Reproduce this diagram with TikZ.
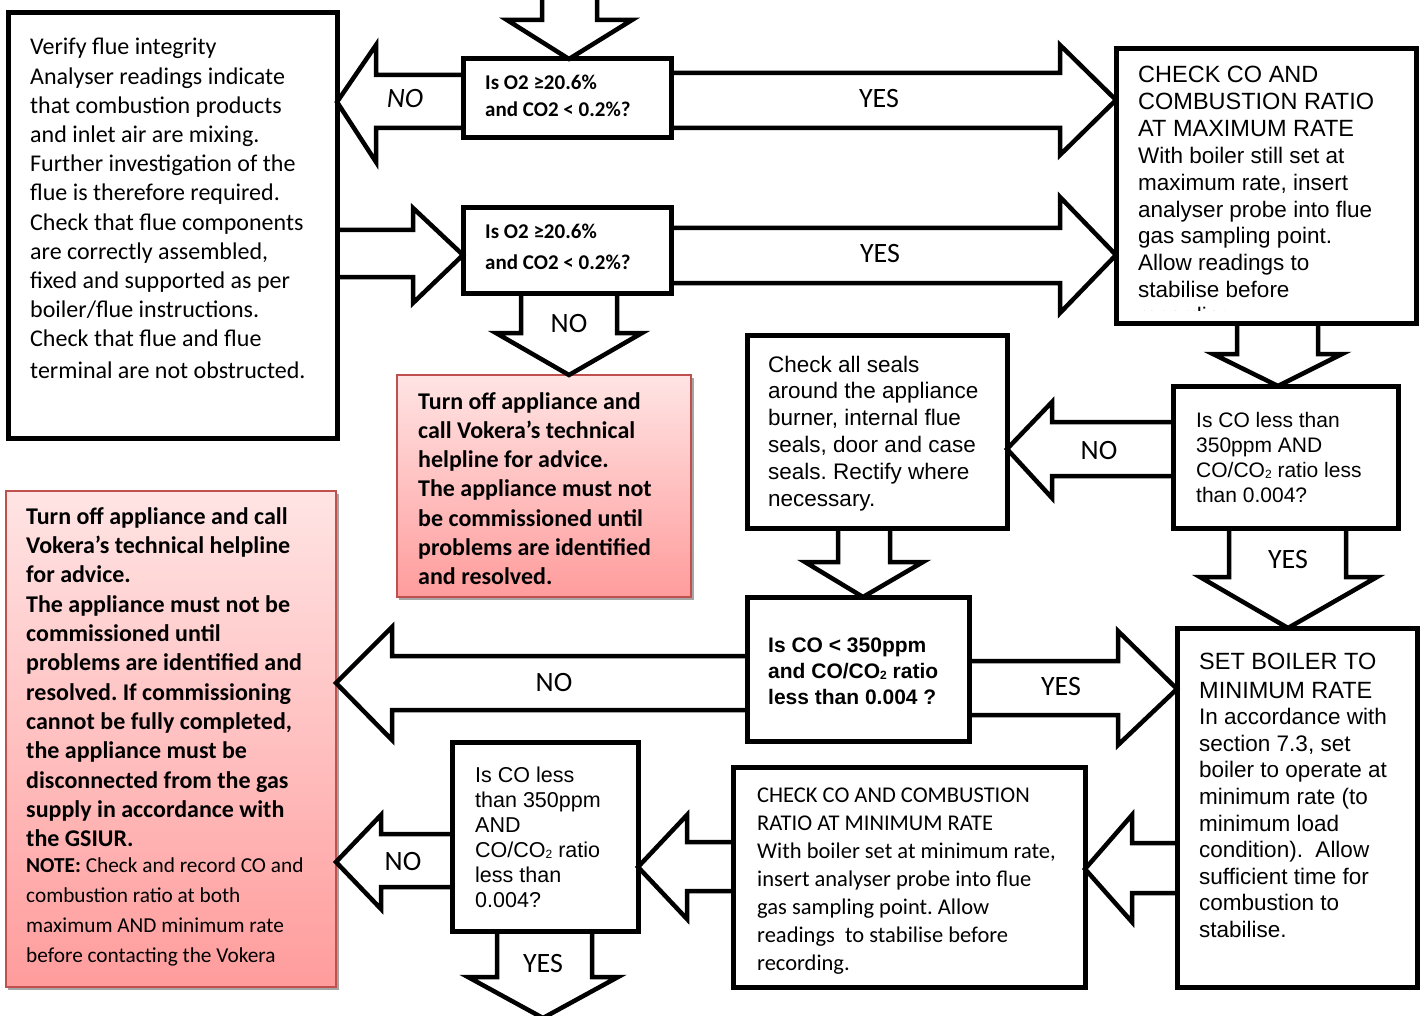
\documentclass[tikz,border=0pt]{standalone}
\usepackage{fontspec}
\setmainfont{Carlito}
\newfontfamily\arialf{Liberation Sans}
\usetikzlibrary{calc}

\definecolor{redline}{RGB}{192,80,77}
\definecolor{redtop}{RGB}{255,228,228}
\definecolor{redbot}{RGB}{255,156,156}
\definecolor{shadowc}{RGB}{165,165,165}

\newcommand\fs[2]{\fontsize{#1}{#2}\selectfont}
\newcommand\tlines[1]{\vtop{\hsize=500pt\parindent=0pt\parskip=0pt\raggedright\frenchspacing #1}}
\newcommand\subtwo{\raisebox{-1pt}{\fontsize{12}{12}\selectfont 2}}

\tikzset{
  box/.style={draw=black, line width=5pt, fill=white, inner sep=0pt, outer sep=0pt, anchor=north west},
  redbox/.style={draw=redline, line width=1.5pt, top color=redtop, bottom color=redbot, inner sep=0pt, outer sep=0pt, anchor=north west},
  blk/.style={draw=black, line width=4.5pt, fill=white, line join=miter},
  lbl/.style={font=\fs{28}{30}, inner sep=0pt, anchor=base},
  txt/.style={inner sep=0pt, anchor=base west, text=black}
}

\begin{document}
\begin{tikzpicture}[x=1pt,y=-1pt]
\path[use as bounding box, fill=white] (0,0) rectangle (1426,1016);

% shadows of the red boxes
\fill[shadowc] (399,378) rectangle (694,600);
\fill[shadowc] (8,494) rectangle (339,990);

% red boxes
\node[redbox, minimum width=294pt, minimum height=222pt] (red1) at (397,375) {};
\node[redbox, minimum width=330pt, minimum height=496pt] (red2) at (6,491) {};

% boxes
\node[box, minimum width=329pt, minimum height=425pt] (A) at (8,13) {};
\node[box, minimum width=208pt, minimum height=79pt] (Q1) at (463,59) {};
\node[box, minimum width=208pt, minimum height=85pt] (Q2) at (463,208) {};
\node[box, minimum width=300pt, minimum height=274pt] (chkmax) at (1116,49) {};
\node[box, minimum width=260pt, minimum height=193pt] (seals) at (747,335) {};
\node[box, minimum width=225pt, minimum height=142pt] (Q3) at (1173,386) {};
\node[box, minimum width=222pt, minimum height=144pt] (Q4) at (747,597) {};
\node[box, minimum width=240pt, minimum height=359pt] (setmin) at (1177,628) {};
\node[box, minimum width=352pt, minimum height=220pt] (chkmin) at (733,767) {};
\node[box, minimum width=186pt, minimum height=189pt] (Q5) at (452,742) {};

\coordinate (topin) at (569,-10);
\coordinate (botout) at (543,1018);

% block arrows
\draw[blk] (topin -| 542,0) -- (542,20) -- (507,20) -- (569,0 |- Q1.north) -- (632,20) -- (597,20) -- (topin -| 597,0);
\draw[blk] (Q1.west |- 0,75) -- (376,75) -- (376,45) -- (A.east |- 0,102) -- (376,162) -- (376,128) -- (Q1.west |- 0,128);
\draw[blk] (Q1.east |- 0,73) -- (1060,73) -- (1060,45) -- (chkmax.west |- 0,100) -- (1060,155) -- (1060,128) -- (Q1.east |- 0,128);
\draw[blk] (A.east |- 0,230) -- (413,230) -- (413,208) -- (Q2.west |- 0,255) -- (413,303) -- (413,277) -- (A.east |- 0,277);
\draw[blk] (Q2.east |- 0,228) -- (1060,228) -- (1060,197) -- (chkmax.west |- 0,255) -- (1060,313) -- (1060,283) -- (Q2.east |- 0,283);
\draw[blk] (521,0 |- Q2.south) -- (521,333) -- (496,333) -- (569,0 |- red1.north) -- (642,333) -- (617,333) -- (617,0 |- Q2.south);
\draw[blk] (1237,0 |- chkmax.south) -- (1237,354) -- (1213,354) -- (1278,0 |- Q3.north) -- (1342,354) -- (1318,354) -- (1318,0 |- chkmax.south);
\draw[blk] (Q3.west |- 0,422) -- (1052,422) -- (1052,402) -- (seals.east |- 0,449) -- (1052,498) -- (1052,476) -- (Q3.west |- 0,476);
\draw[blk] (1229,0 |- Q3.south) -- (1229,577) -- (1200,577) -- (1288,0 |- setmin.north) -- (1377,577) -- (1346,577) -- (1346,0 |- Q3.south);
\draw[blk] (838,0 |- seals.south) -- (838,562) -- (805,562) -- (863,0 |- Q4.north) -- (923,562) -- (890,562) -- (890,0 |- seals.south);
\draw[blk] (Q4.west |- 0,656) -- (392,656) -- (392,627) -- (red2.east |- 0,683) -- (392,740) -- (392,710) -- (Q4.west |- 0,710);
\draw[blk] (Q4.east |- 0,661) -- (1118,661) -- (1118,631) -- (setmin.west |- 0,689) -- (1118,745) -- (1118,715) -- (Q4.east |- 0,715);
\draw[blk] (setmin.west |- 0,843) -- (1132,843) -- (1132,815) -- (chkmin.east |- 0,869) -- (1132,922) -- (1132,893) -- (setmin.west |- 0,893);
\draw[blk] (chkmin.west |- 0,842) -- (687,842) -- (687,815) -- (Q5.east |- 0,867) -- (687,919) -- (687,891) -- (chkmin.west |- 0,891);
\draw[blk] (Q5.west |- 0,834) -- (381,834) -- (381,815) -- (red2.east |- 0,862) -- (381,909) -- (381,887) -- (Q5.west |- 0,887);
\draw[blk] (497,0 |- Q5.south) -- (497,977) -- (468,977) -- (botout) -- (618,977) -- (592,977) -- (592,0 |- Q5.south);

% redraw box borders on top of arrow ends
\foreach \n in {A,Q1,Q2,chkmax,seals,Q3,Q4,setmin,chkmin,Q5}
  \draw[line width=5pt] (\n.north west) rectangle (\n.south east);

% arrow labels
\node[lbl] (l1) at (405,108) {\itshape NO};
\node[lbl] (l2) at (879,108) {YES};
\node[lbl] (l3) at (880,262) {YES};
\node[lbl] (l4) at (569,332) {NO};
\node[lbl] (l5) at (1099,459) {NO};
\node[lbl] (l6) at (1288,568) {YES};
\node[lbl] (l7) at (1061,695) {YES};
\node[lbl] (l8) at (554,691) {NO};
\node[lbl] (l9) at (403,870) {NO};
\node[lbl] (l10) at (543,972) {YES};

% texts
\node[txt] (tA) at (30,55) {\tlines{\fs{24}{29.2}Verify flue integrity\\Analyser readings indicate\\that combustion products\\and inlet air are mixing.\\Further investigation of the\\flue is therefore required.\\Check that flue components\\are correctly assembled,\\fixed and supported as per\\boiler/flue instructions.\\Check that flue and flue\\[2pt]terminal are not obstructed.}};

\node[txt] (tQ1) at (485,90) {\tlines{\fs{21}{27}\bfseries Is O2 ≥20.6\%\\and CO2 < 0.2\%?}};
\node[txt] (tQ2) at (485,239) {\tlines{\fs{21}{31}\bfseries Is O2 ≥20.6\%\\and CO2 < 0.2\%?}};

\node[txt] (tR1) at (418,409) {\tlines{\fs{24}{29.3}\bfseries Turn off appliance and\\call Vokera’s technical\\helpline for advice.\\The appliance must not\\be commissioned until\\problems are identified\\and resolved.}};

\begin{scope}
\clip (1116,49) rectangle (1416,310);
\node[txt] (tCM) at (1138,83) {\tlines{\arialf{\fs{23.5}{27}CHECK CO AND\\COMBUSTION RATIO\\AT MAXIMUM RATE\par}\fs{22.5}{26.7}With boiler still set at\\maximum rate, insert\\analyser probe into flue\\gas sampling point.\\Allow readings to\\stabilise before\\recording}};
\end{scope}

\node[txt] (tS) at (768,372) {\tlines{\arialf\fs{22.5}{26.8}Check all seals\\around the appliance\\burner, internal flue\\seals, door and case\\seals. Rectify where\\necessary.}};

\node[txt] (tQ3) at (1196,427) {\tlines{\arialf\fs{21}{25.3}Is CO less than\\350ppm AND\\CO/CO\subtwo\ ratio less\\than 0.004?}};

\node[txt] (tQ4) at (768,652) {\tlines{\arialf\bfseries\fs{21}{26}Is CO < 350ppm\\and CO/CO\subtwo\ ratio\\less than 0.004 ?}};

\node[txt] (tSM) at (1199,669) {\tlines{\arialf{\fs{23.5}{29}SET BOILER TO\\MINIMUM RATE\par}\fs{22.5}{26.6}In accordance with\\section 7.3, set\\boiler to operate at\\minimum rate (to\\minimum load\\condition).\ \ Allow\\sufficient time for\\combustion to\\stabilise.}};

\node[txt] (tCN) at (757,802) {\tlines{\fs{22.5}{28}CHECK CO AND COMBUSTION\\RATIO AT MINIMUM RATE\\With boiler set at minimum rate,\\insert analyser probe into flue\\gas sampling point. Allow\\readings\ \ to stabilise before\\recording.}};

\node[txt] (tQ5) at (475,782) {\tlines{\arialf\fs{21.5}{25}Is CO less\\than 350ppm\\AND\\CO/CO\subtwo\ ratio\\less than\\0.004?}};

\node[txt] (tR2) at (26,524) {\tlines{{\bfseries\fs{24}{29.35}Turn off appliance and call\\Vokera’s technical helpline\\for advice.\\The appliance must not be\\commissioned until\\problems are identified and\\resolved. If commissioning\\cannot be fully completed,\\the appliance must be\\disconnected from the gas\\supply in accordance with\\the GSIUR.\par}\vskip-4pt\fs{21.3}{30}\textbf{NOTE:} Check and record CO and\\combustion ratio at both\\maximum AND minimum rate\\before contacting the Vokera}};
\end{tikzpicture}
\end{document}
